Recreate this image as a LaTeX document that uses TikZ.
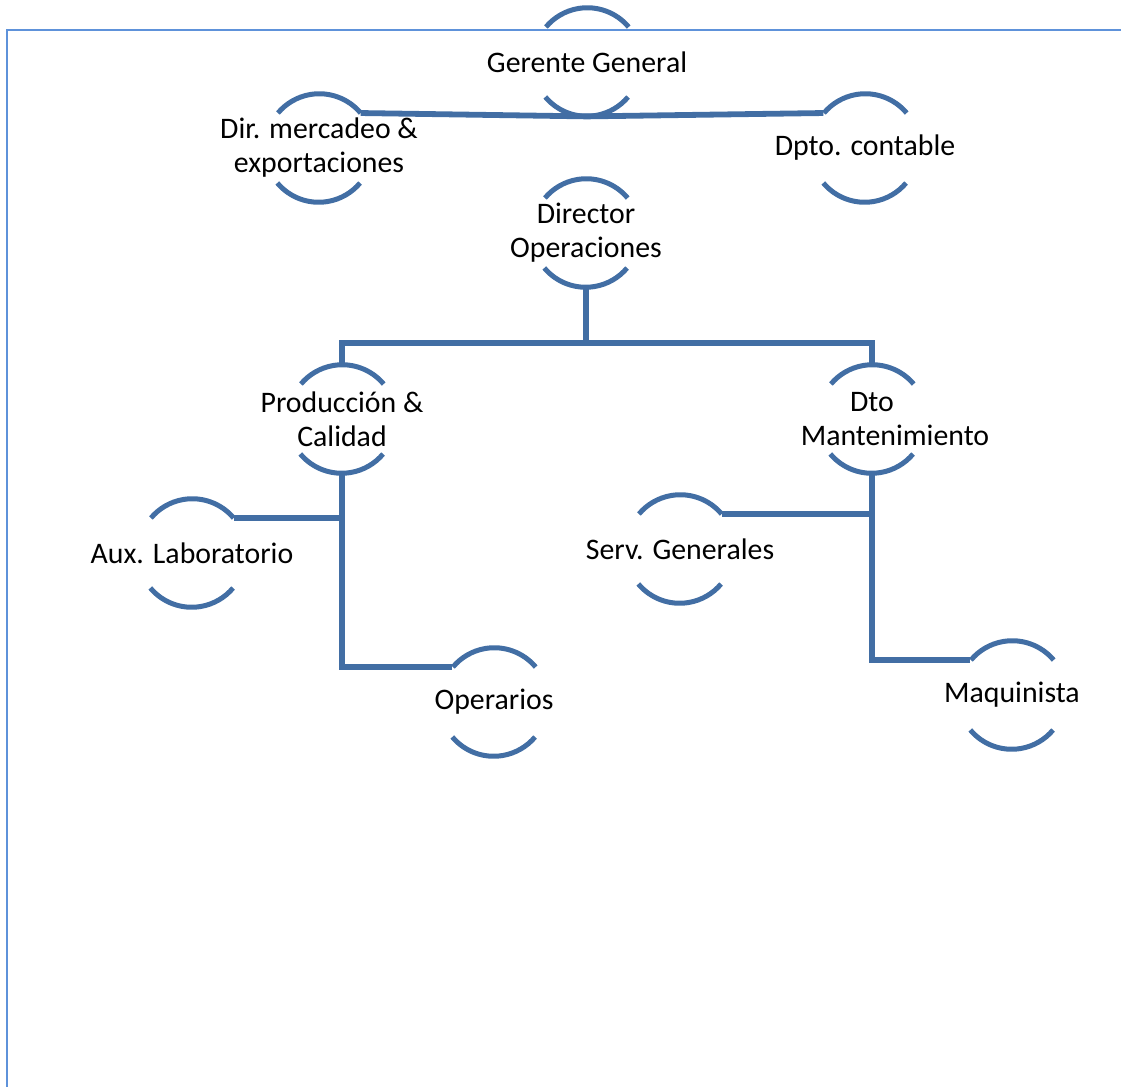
\documentclass[tikz,border=0pt]{standalone}
\usepackage{fontspec}
\setmainfont{Carlito}
\usepackage{tikz}
\usetikzlibrary{calc}

\definecolor{lineblue}{RGB}{66,110,164}
\definecolor{frameblue}{RGB}{94,146,218}

\begin{document}
\begin{tikzpicture}[x=0.5pt,y=-0.5pt,font=\fontsize{14.9}{17}\selectfont,
  unit/.style={circle,minimum size=54pt,inner sep=0pt},
  unittext/.style={align=center,inner sep=0pt},
  link/.style={draw=lineblue,line width=2.9pt},
  unitarc/.style={draw=lineblue,line width=2.5pt},
  frame/.style={draw=frameblue,line width=1.4pt}]
\useasboundingbox (0,0) rectangle (1121,1087);
\draw[frame] (1121,30)--(7,30)--(7,1087);
\node[unit,label={[unittext]center:Gerente General}] (gg) at (587,62) {};
\node[unit,label={[unittext]center:Dir. mercadeo \&\\exportaciones}] (dm) at (319,148) {};
\node[unit,label={[unittext]center:Dpto. contable}] (dc) at (865,148) {};
\node[unit,label={[unittext]center:Director\\Operaciones}] (do) at (586,233) {};
\node[unit,label={[unittext]center:Producción \&\\Calidad}] (pc) at (342,419) {};
\node[unit,label={[unittext,xshift=11.5pt]center:Dto\hspace*{23pt}\\Mantenimiento}] (dmn) at (872,419) {};
\node[unit,label={[unittext]center:Aux. Laboratorio}] (al) at (192,553) {};
\node[unit,label={[unittext]center:Operarios}] (op) at (494,702) {};
\node[unit,label={[unittext]center:Serv. Generales}] (sg) at (680,549) {};
\node[unit,label={[unittext]center:Maquinista}] (mq) at (1012,695) {};
\coordinate (split) at (586,343);
\foreach \u in {gg,dm,dc,do,pc,dmn,al,op,sg,mq}{
  \draw[unitarc] (\u.40) arc[start angle=40,end angle=140,radius=27pt];
  \draw[unitarc] (\u.220) arc[start angle=220,end angle=320,radius=27pt];
}
\draw[link] (dm.40)--(gg.south)--(dc.140);
\draw[link] (do.south)--(split);
\draw[link] (pc.north)|-(split)-|(dmn.north);
\draw[link] (al.40)-|(pc.south);
\draw[link] (pc.south)|-(op.140);
\draw[link] (sg.40)-|(dmn.south);
\draw[link] (dmn.south)|-(mq.140);
\end{tikzpicture}
\end{document}
